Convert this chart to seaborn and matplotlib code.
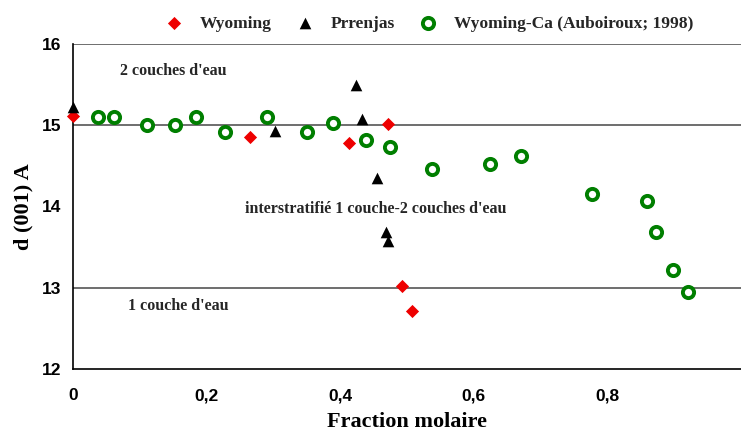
import pandas as pd
import numpy as np
import seaborn as sns
import matplotlib.pyplot as plt

# donnees
wy_x = [0.0, 0.265, 0.413, 0.472, 0.493, 0.508]
wy_y = [15.11, 14.85, 14.78, 15.01, 13.02, 12.71]

pr_x = [0.0, 0.302, 0.423, 0.432, 0.455, 0.469, 0.472]
pr_y = [15.22, 14.93, 15.49, 15.07, 14.35, 13.68, 13.57]

ca_x = [0.037, 0.061, 0.111, 0.152, 0.184, 0.227, 0.290, 0.350, 0.389,
        0.439, 0.475, 0.537, 0.625, 0.671, 0.777, 0.860, 0.873, 0.898, 0.921]
ca_y = [15.10, 15.10, 15.00, 15.00, 15.10, 14.91, 15.10, 14.91, 15.02,
        14.81, 14.73, 14.46, 14.52, 14.62, 14.15, 14.06, 13.68, 13.21, 12.95]

series = ["Wyoming", "Prrenjas", "Wyoming-Ca (Auboiroux; 1998)"]
x_ticks = [0, 0.2, 0.4, 0.6, 0.8]
x_labels = ["0", "0,2", "0,4", "0,6", "0,8"]
y_ticks = [12, 13, 14, 15, 16]

df = pd.concat([
    pd.DataFrame({"x": wy_x, "y": wy_y, "serie": series[0]}),
    pd.DataFrame({"x": pr_x, "y": pr_y, "serie": series[1]}),
    pd.DataFrame({"x": ca_x, "y": ca_y, "serie": series[2]}),
])

sns.set_style("white")
fig = plt.figure(figsize=(7.41, 4.37), dpi=100)
ax = fig.add_axes([0.0985, 0.156, 0.9015, 0.744])

styles = {
    series[0]: dict(marker="D", s=45, color="#ee0000", edgecolor="#ee0000", linewidth=0),
    series[1]: dict(marker="^", s=70, color="black", edgecolor="black", linewidth=0),
    series[2]: dict(marker="o", s=65, color="white", edgecolor="#007f00", linewidth=2.8),
}
for name in series:
    sub = df[df["serie"] == name]
    sns.scatterplot(data=sub, x="x", y="y", ax=ax, label=name, zorder=3,
                    clip_on=False, **styles[name])

# lignes de separation
for yl in [15, 13, 16]:
    ax.axhline(yl, color="#555555", lw=1.2, zorder=1)

ax.set_xlim(0, 1.0)
ax.set_ylim(12, 16)
ax.set_xticks(x_ticks)
ax.set_xticklabels(x_labels)
ax.set_yticks(y_ticks)
for s in ["top", "right"]:
    ax.spines[s].set_visible(False)
for s in ["left", "bottom"]:
    ax.spines[s].set_color("black")
    ax.spines[s].set_linewidth(1.2)
ax.tick_params(axis="both", direction="out", length=5, width=1, color="black",
               labelsize=12.5, labelcolor="black")
for lab in ax.get_xticklabels() + ax.get_yticklabels():
    lab.set_fontfamily("Liberation Sans")
    lab.set_fontweight("bold")
ax.tick_params(axis="x", pad=9)

serif = "Liberation Serif"
ax.set_xlabel("Fraction molaire", fontfamily=serif, fontweight="bold", fontsize=16,
              labelpad=6, color="black")
ax.set_ylabel("d (001) A", fontfamily=serif, fontweight="bold", fontsize=16,
              labelpad=6, color="black")

ax.text(0.07, 15.67, "2 couches d'eau", fontfamily=serif, fontweight="bold", fontsize=11.5, va="center")
ax.text(0.257, 13.97, "interstratifié 1 couche-2 couches d'eau", fontfamily=serif,
        fontweight="bold", fontsize=11.5, va="center")
ax.text(0.083, 12.77, "1 couche d'eau", fontfamily=serif, fontweight="bold", fontsize=11.5, va="center")

leg = ax.legend(loc="lower center", bbox_to_anchor=(0.527, 1.0), ncol=3, frameon=False,
                handletextpad=0.5, columnspacing=0.9, borderaxespad=0.3,
                prop={"family": serif, "weight": "bold", "size": 12.5})

fig.savefig("out.png", dpi=100)
